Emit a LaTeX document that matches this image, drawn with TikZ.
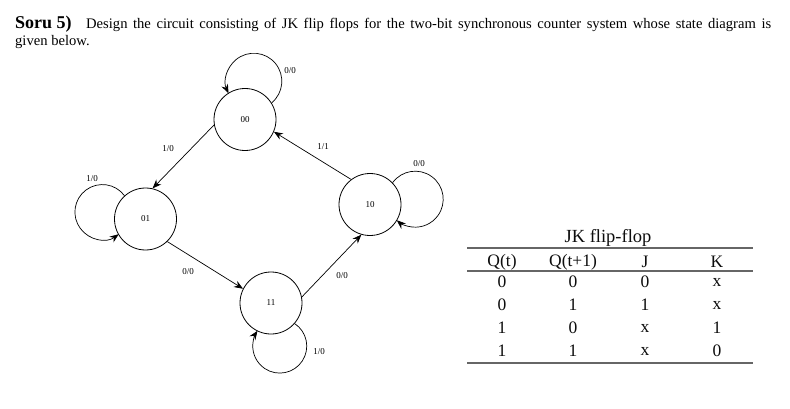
\documentclass[tikz,border=0pt]{standalone}
\usepackage{fontspec}
\setmainfont{Liberation Serif}
\usetikzlibrary{arrows.meta}
\begin{document}
\begin{tikzpicture}[x=1pt,y=-1pt,
 state/.style={circle,draw,line width=0.8pt,minimum size=62pt,inner sep=0pt,font=\fontsize{9}{10}\selectfont},
 tr/.style={line width=0.7pt,-{Stealth[length=9pt,width=7pt,inset=3pt]}},
 lbl/.style={font=\fontsize{9}{10}\selectfont,inner sep=0pt},
 tcell/.style={font=\fontsize{17.5}{18}\selectfont,inner sep=0pt,text=black!95},
 trule/.style={line width=1.3pt,draw=black!60},
 hdr/.style={anchor=base west,inner sep=0pt}]
\useasboundingbox[fill=white] (0,0) rectangle (790,409);
% header
\node[hdr,font=\fontsize{18}{20}\selectfont\bfseries] (soru) at (15,29) {Soru 5)};
\node[hdr,font=\fontsize{14.6}{16}\selectfont] (q1) at (86,29) {\makebox[685pt][s]{Design the circuit consisting of JK flip flops for the two-bit synchronous counter system whose state diagram is}};
\node[hdr,font=\fontsize{14.6}{16}\selectfont] (q2) at (15,46) {given below.};
% states
\node[state] (s00) at (245,119.5) {00};
\node[state] (s01) at (145.5,219) {01};
\node[state] (s10) at (370,204.5) {10};
\node[state] (s11) at (271,303) {11};
% transitions
\draw[tr] (s00.190) -- (s01.77);
\draw[tr] (s10.127) -- (s00.337);
\draw[tr] (s01.314) -- (s11.153);
\draw[tr] (s11.11) -- (s10.254);
% self loops
\draw[tr] (s00.32) arc[start angle=50.5, end angle=-205.4, radius=28];
\draw[tr] (s01.132) arc[start angle=-36.6, end angle=-306.3, radius=27.5];
\draw[tr] (s10.44) arc[start angle=-143.9, end angle=131.2, radius=28];
\draw[tr] (s11.319) arc[start angle=-56.4, end angle=214.5, radius=27];
% labels
\node[lbl] (l00) at (290,71) {0/0};
\node[lbl] (l0001) at (168,149) {1/0};
\node[lbl] (l1000) at (323,147) {1/1};
\node[lbl] (l10) at (419,164) {0/0};
\node[lbl] (l01) at (92,179) {1/0};
\node[lbl] (l0111) at (188,272) {0/0};
\node[lbl] (l1110) at (342,276) {0/0};
\node[lbl] (l11) at (319,352) {1/0};
% table
\node[tcell,font=\fontsize{18.5}{19}\selectfont] (title) at (608,238) {JK flip-flop};
\draw[trule] (467,248) -- (753,248);
\draw[trule] (467,271) -- (753,271);
\draw[trule] (467,363) -- (753,363);
\node[tcell] (hq) at (502,262) {Q(t)};
\node[tcell] (hqn) at (573,262) {Q(t+1)};
\node[tcell] (hj) at (645,262) {J};
\node[tcell] (hk) at (717,262) {K};
\node[tcell] (a1) at (502,282) {0};
\node[tcell] (b1) at (573,282) {0};
\node[tcell] (c1) at (645,282) {0};
\node[tcell] (d1) at (717,282) {x};
\node[tcell] (a2) at (502,305) {0};
\node[tcell] (b2) at (573,305) {1};
\node[tcell] (c2) at (645,305) {1};
\node[tcell] (d2) at (717,305) {x};
\node[tcell] (a3) at (502,328) {1};
\node[tcell] (b3) at (573,328) {0};
\node[tcell] (c3) at (645,328) {x};
\node[tcell] (d3) at (717,328) {1};
\node[tcell] (a4) at (502,351) {1};
\node[tcell] (b4) at (573,351) {1};
\node[tcell] (c4) at (645,351) {x};
\node[tcell] (d4) at (717,351) {0};
\end{tikzpicture}
\end{document}
